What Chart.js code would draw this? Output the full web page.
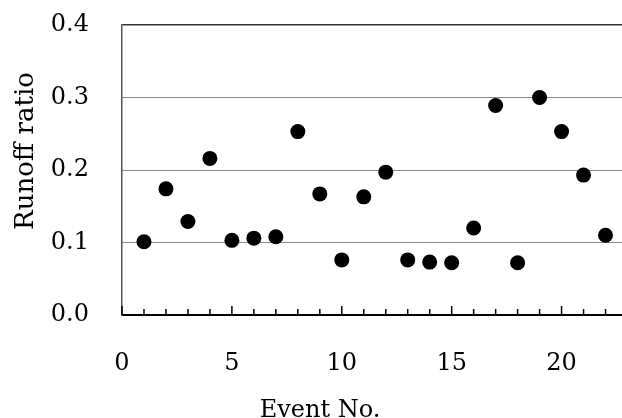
<!DOCTYPE html>
<html>
<head>
<meta charset="utf-8">
<script src="https://cdn.jsdelivr.net/npm/chart.js@4"></script>
<style>
  html, body { margin: 0; padding: 0; background: #fff; overflow: hidden; }
  canvas { display: block; }
</style>
</head>
<body>
<canvas id="chart" width="622" height="418"></canvas>
<script>
const eventNo = [1, 2, 3, 4, 5, 6, 7, 8, 9, 10, 11, 12, 13, 14, 15, 16, 17, 18, 19, 20, 21, 22];
const runoffRatio = [0.101, 0.174, 0.129, 0.216, 0.103, 0.106, 0.108, 0.253, 0.167, 0.076, 0.163,
    0.197, 0.076, 0.073, 0.072, 0.120, 0.289, 0.072, 0.300, 0.253, 0.193, 0.110];
const yTicks = [0, 0.1, 0.2, 0.3, 0.4];
const xTickLabels = [0, 5, 10, 15, 20];

const FONT = 'DejaVu Serif';

// minor ticks inside the plot + axis titles
const extras = {
    id: 'extras',
    afterDraw(chart) {
        const ctx = chart.ctx;
        const x = chart.scales.x;
        const bottom = chart.chartArea.bottom;
        ctx.save();
        ctx.strokeStyle = '#000';
        ctx.lineWidth = 1.5;
        x.ticks.forEach(t => {
            const px = x.getPixelForValue(t.value);
            const len = t.value % 5 === 0 ? 9 : 6;
            ctx.beginPath();
            ctx.moveTo(px, bottom);
            ctx.lineTo(px, bottom - len);
            ctx.stroke();
        });

        ctx.fillStyle = '#000';
        ctx.textAlign = 'center';
        ctx.textBaseline = 'alphabetic';
        ctx.font = '24px "' + FONT + '"';
        ctx.fillText('Event No.', 320, 417);
        ctx.font = '26px "' + FONT + '"';
        ctx.translate(33, 151);
        ctx.rotate(-Math.PI / 2);
        ctx.fillText('Runoff ratio', 0, 0);
        ctx.restore();
    }
};

new Chart(document.getElementById('chart'), {
    type: 'scatter',
    data: {
        datasets: [{
            data: eventNo.map((e, i) => ({ x: e, y: runoffRatio[i] })),
            backgroundColor: '#000',
            borderWidth: 0,
            pointRadius: 7.5,
            pointHoverRadius: 7.5
        }]
    },
    options: {
        responsive: false,
        animation: false,
        events: [],
        layout: { autoPadding: false, padding: { top: 25, right: 0, left: 0, bottom: 0 } },
        plugins: { legend: { display: false }, tooltip: { enabled: false } },
        scales: {
            x: {
                type: 'linear',
                min: 0,
                max: 22.75,
                afterBuildTicks: s => {
                    s.ticks = [];
                    for (let v = 0; v <= 22; v++) s.ticks.push({ value: v });
                },
                afterFit: s => {
                    s.height = 103;
                    s.paddingLeft = 0;
                    s.paddingRight = 0;
                },
                grid: { display: false, drawTicks: false },
                border: { color: '#000', width: 2 },
                ticks: {
                    autoSkip: false,
                    maxRotation: 0,
                    padding: 34,
                    color: '#000',
                    font: { family: FONT, size: 24 },
                    callback: v => xTickLabels.includes(v) ? String(v) : ''
                }
            },
            y: {
                min: 0,
                max: 0.4,
                afterBuildTicks: s => { s.ticks = yTicks.map(v => ({ value: v })); },
                afterFit: s => {
                    s.width = 122;
                    s.paddingTop = 0;
                    s.paddingBottom = 0;
                },
                grid: {
                    drawTicks: false,
                    color: c => c.tick.value === 0.4 ? '#333' : (c.tick.value === 0 ? 'rgba(0,0,0,0)' : '#888'),
                    lineWidth: c => c.tick.value === 0.4 ? 1.5 : 1
                },
                border: { color: '#555', width: 1.5 },
                ticks: {
                    padding: 33,
                    color: '#000',
                    font: { family: FONT, size: 24 },
                    callback: v => v.toFixed(1)
                }
            }
        }
    },
    plugins: [extras]
});
</script>
</body>
</html>
